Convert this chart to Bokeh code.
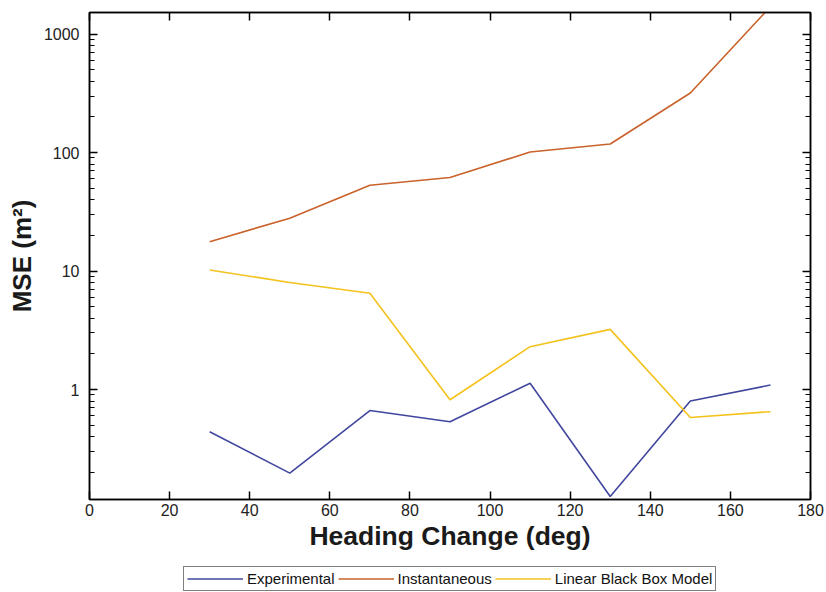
from bokeh.plotting import figure
from bokeh.models import (LogAxis, LinearAxis, FixedTicker, Range1d, Legend, LegendItem,
                          CustomJSTickFormatter)
from bokeh.layouts import column
from bokeh.embed import file_html
from bokeh.resources import INLINE

heading = [30, 50, 70, 90, 110, 130, 150, 170]
experimental = [0.44, 0.197, 0.665, 0.534, 1.13, 0.125, 0.80, 1.09]
instantaneous = [17.7, 27.9, 53.0, 61.5, 101.0, 118.0, 318.0, 1700.0]
linear_bb = [10.2, 8.0, 6.5, 0.82, 2.30, 3.22, 0.58, 0.65]
series_names = ["Experimental", "Instantaneous", "Linear Black Box Model"]
series_colors = ["#41479e", "#c9622b", "#f4c21c"]

x_ticks = [0, 20, 40, 60, 80, 100, 120, 140, 160, 180]
y_ticks = [1, 10, 100, 1000]
y_minor = [k * 10.0 ** e for e in range(-1, 4) for k in range(2, 10)]

FONT = "Liberation Sans"

p = figure(width=826, height=562, output_backend="svg", toolbar_location=None,
           y_axis_type="log", x_range=Range1d(0, 180), y_range=Range1d(0.118, 1520),
           min_border_left=89, min_border_right=16, min_border_top=12, min_border_bottom=63)
p.grid.visible = False
p.outline_line_color = "black"
p.outline_line_width = 1.5
p.background_fill_color = "white"
p.border_fill_color = "white"

fmt = CustomJSTickFormatter(code="return tick.toString();")
blank = CustomJSTickFormatter(code="return '';")

def style_axis(ax, labels=True):
    ax.axis_line_color = "black"
    ax.axis_line_width = 1.5
    ax.major_tick_line_color = "black"
    ax.major_tick_line_width = 1.5
    ax.minor_tick_line_color = "black"
    ax.minor_tick_line_width = 1.2
    ax.major_tick_in = 8
    ax.major_tick_out = 0
    ax.minor_tick_in = 5
    ax.minor_tick_out = 0
    ax.major_label_text_font = FONT
    ax.major_label_text_font_size = "16px"
    ax.major_label_text_color = "#222222"
    ax.major_label_standoff = 10
    if not labels:
        ax.formatter = blank
        ax.major_label_standoff = 0

xa = p.xaxis[0]
xa.ticker = FixedTicker(ticks=x_ticks)
style_axis(xa)
xa.major_label_standoff = 4
xa.axis_label = "Heading Change (deg)"
xa.axis_label_text_font = FONT
xa.axis_label_text_font_style = "bold"
xa.axis_label_text_font_size = "26.5px"
xa.axis_label_text_color = "#1a1a1a"
xa.axis_label_standoff = 2

ya = p.yaxis[0]
ya.ticker = FixedTicker(ticks=y_ticks, minor_ticks=y_minor)
ya.formatter = fmt
style_axis(ya)
ya.axis_label = "MSE (m²)"
ya.axis_label_text_font = FONT
ya.axis_label_text_font_style = "bold"
ya.axis_label_text_font_size = "26px"
ya.axis_label_text_color = "#1a1a1a"
ya.axis_label_standoff = 4

top = LinearAxis(ticker=FixedTicker(ticks=x_ticks))
style_axis(top, labels=False)
p.add_layout(top, "above")

right = LogAxis(ticker=FixedTicker(ticks=y_ticks, minor_ticks=y_minor))
style_axis(right, labels=False)
p.add_layout(right, "right")

all_series = [experimental, instantaneous, linear_bb]
for vals, col in zip(all_series, series_colors):
    p.line(heading, vals, line_color=col, line_width=1.6)

# Legend strip below the chart (separate figure so it sits outside the frame)
leg_fig = figure(width=826, height=30, output_backend="svg", toolbar_location=None,
                 x_range=Range1d(1000, 1001), y_range=Range1d(1000, 1001),
                 x_axis_location=None, y_axis_location=None,
                 min_border_left=89, min_border_right=16, min_border_top=0, min_border_bottom=0)
leg_fig.grid.visible = False
leg_fig.outline_line_color = None
leg_fig.border_fill_color = "white"
leg_fig.background_fill_color = "white"

items = []
for name, vals, col in zip(series_names, all_series, series_colors):
    r = leg_fig.line(heading, vals, line_color=col, line_width=1.6)
    items.append(LegendItem(label=name, renderers=[r]))

legend = Legend(items=items, orientation="horizontal", location=(94, 1),
                label_text_font=FONT, label_text_font_size="15px",
                label_text_color="#111111",
                glyph_width=56, glyph_height=15, label_standoff=4, spacing=3,
                padding=3, margin=0, border_line_color="black", border_line_width=1,
                label_height=15, background_fill_color="white")
leg_fig.add_layout(legend, "center")

layout = column(p, leg_fig, spacing=0)
open("out.html", "w").write(file_html(layout, INLINE))
